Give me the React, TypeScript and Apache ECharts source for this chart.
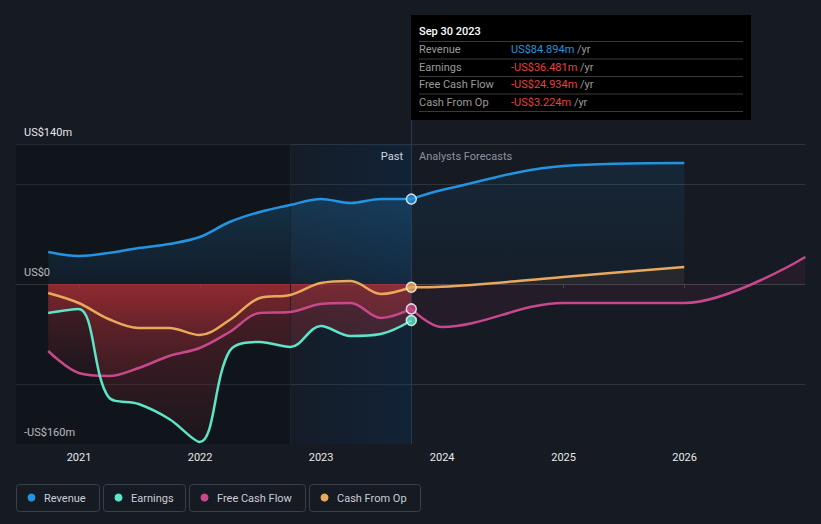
import React, { useEffect, useRef } from 'react';
import * as echarts from 'echarts';

// ---------- data ----------
const pastDates = ['2020-09-30', '2020-12-31', '2021-03-31', '2021-06-30', '2021-09-30', '2021-12-31', '2022-03-31', '2022-06-30', '2022-09-30', '2022-12-31', '2023-03-31', '2023-06-30', '2023-09-30'];
const revenuePast = [32, 28, 31, 36, 40, 47, 62, 72, 79, 85, 81, 85, 84.894];
const earningsPast = [-29, -25, -113, -120, -135, -158, -67, -58, -63, -42, -52, -50, -36.481];
const fcfPast = [-67, -89, -92, -84, -72, -64, -48, -29, -28, -20, -19, -34, -24.934];
const cfoPast = [-9, -19, -35, -44, -44, -51, -36, -14, -11, 1, 3, -10, -3.224];

const revenueForecastDates = ['2023-09-30', '2023-12-31', '2024-12-31', '2025-12-31'];
const revenueForecast = [84.894, 94, 118, 121];
const fcfForecastDates = ['2023-09-30', '2023-12-31', '2024-12-31', '2025-12-31', '2026-12-31'];
const fcfForecast = [-24.934, -43, -19, -19, 27];
const cfoForecastDates = ['2023-09-30', '2023-12-31', '2024-12-31', '2025-12-31'];
const cfoForecast = [-3.224, -2.7, 7, 17];

const axisMinDate = '2020-06-25';
const axisMaxDate = '2026-12-30';
const highlightStartDate = '2022-09-30';
const splitDate = '2023-09-30';

const yMin = -160;
const yMax = 140;
const yLabelValues = [140, 0, -160];
const yLabelTexts = ['US$140m', 'US$0', '-US$160m'];
const yGridValues = [140, 100, 0, -100];

const seriesNames = ['Revenue', 'Earnings', 'Free Cash Flow', 'Cash From Op'];
const seriesColors = ['#2394df', '#5ce5c9', '#c8488c', '#e8a95c'];

const tooltipTitle = 'Sep 30 2023';
const tooltipValues = ['US$84.894m', '-US$36.481m', '-US$24.934m', '-US$3.224m'];
const tooltipUnit = '/yr';

const pastLabel = 'Past';
const forecastLabel = 'Analysts Forecasts';

// ---------- helpers ----------
const BG = '#151a23';
const FONT = 'Roboto, "Noto Sans", sans-serif';
const ts = (d: string) => new Date(d + 'T00:00:00Z').getTime();
const zip = (dates: string[], vals: number[]) => dates.map((d, i) => [ts(d), vals[i]]);
const SMOOTH = 0.35;

const redArea = () =>
  new echarts.graphic.LinearGradient(0, 0, 0, 1, [
    { offset: 0, color: 'rgba(190,50,56,0.5)' },
    { offset: 1, color: 'rgba(190,50,56,0.1)' },
  ]);

const lineOnly = (name: string, color: string, data: any[], z = 5) => ({
  type: 'line',
  name,
  data,
  smooth: SMOOTH,
  symbol: 'none',
  z,
  lineStyle: { color, width: 2.5 },
  silent: true,
});

const areaOnly = (name: string, data: any[], area: any, z = 2) => ({
  type: 'line',
  name,
  data,
  smooth: SMOOTH,
  symbol: 'none',
  z,
  lineStyle: { width: 0, opacity: 0 },
  areaStyle: { color: area, origin: 0 },
  silent: true,
});

function buildOption() {
  const gridColors: string[] = [];
  for (let v = yMin; v <= yMax; v += 20) {
    if (v === 0) gridColors.push('#ffffff');
    else if (yGridValues.indexOf(v) >= 0) gridColors.push('#2f343d');
    else gridColors.push('rgba(0,0,0,0)');
  }

  const last = pastDates.length - 1;
  const dots = [revenuePast[last], earningsPast[last], fcfPast[last], cfoPast[last]].map((v, i) => ({
    value: [ts(pastDates[last]), v],
    itemStyle: { color: seriesColors[i], borderColor: '#ffffff', borderWidth: 1.5 },
  }));

  const revPastArea: any = areaOnly(
    seriesNames[0],
    zip(pastDates, revenuePast),
    new echarts.graphic.LinearGradient(0, 0, 0, 1, [
      { offset: 0, color: 'rgba(35,148,223,0.32)' },
      { offset: 1, color: 'rgba(35,148,223,0.1)' },
    ])
  );
  revPastArea.markArea = {
    silent: true,
    data: [
      [{ xAxis: ts(axisMinDate), itemStyle: { color: 'rgba(0,0,0,0.22)' } }, { xAxis: ts(highlightStartDate) }],
      [
        {
          xAxis: ts(highlightStartDate),
          itemStyle: {
            color: new echarts.graphic.LinearGradient(0, 0, 1, 0, [
              { offset: 0, color: 'rgba(10,60,110,0.06)' },
              { offset: 1, color: 'rgba(10,60,110,0.26)' },
            ]),
          },
        },
        { xAxis: ts(splitDate) },
      ],
    ],
  };
  revPastArea.markLine = {
    silent: true,
    symbol: 'none',
    label: { show: false },
    data: [
      { xAxis: ts(highlightStartDate), lineStyle: { color: '#19232f', width: 1, type: 'solid' } },
      { xAxis: ts(splitDate), lineStyle: { color: '#2a3a4c', width: 1, type: 'solid' } },
    ],
  };

  return {
    animation: false,
    backgroundColor: BG,
    textStyle: { fontFamily: FONT },
    grid: { left: 16, right: 16, top: 144, bottom: 80, containLabel: false },
    xAxis: {
      type: 'time',
      min: ts(axisMinDate),
      max: ts(axisMaxDate),
      minInterval: 360 * 86400000,
      maxInterval: 370 * 86400000,
      axisLine: { lineStyle: { color: '#3d424b', width: 1 } },
      axisTick: { show: true, length: 4, lineStyle: { color: '#3d424b' } },
      splitLine: { show: false },
      axisLabel: {
        color: '#e8e8e8',
        fontSize: 11,
        fontFamily: FONT,
        margin: 8,
        formatter: (val: number) => String(new Date(val).getUTCFullYear()),
      },
    },
    yAxis: {
      type: 'value',
      min: yMin,
      max: yMax,
      interval: 20,
      axisLine: { show: false },
      axisTick: { show: false },
      splitLine: { show: true, lineStyle: { color: gridColors, width: 1 } },
      axisLabel: {
        inside: true,
        margin: 8,
        color: '#e8e8e8',
        fontSize: 11,
        fontFamily: FONT,
        verticalAlign: 'bottom',
        lineHeight: 24,
        showMinLabel: true,
        showMaxLabel: true,
        formatter: (v: number) => {
          const i = yLabelValues.indexOf(v);
          return i >= 0 ? yLabelTexts[i] : '';
        },
      },
    },
    series: [
      // areas
      revPastArea,
      areaOnly(
        seriesNames[0],
        zip(revenueForecastDates, revenueForecast),
        new echarts.graphic.LinearGradient(0, 0, 0, 1, [
          { offset: 0, color: 'rgba(35,148,223,0.15)' },
          { offset: 1, color: 'rgba(35,148,223,0.05)' },
        ])
      ),
      areaOnly(seriesNames[3], zip(pastDates, cfoPast), redArea()),
      areaOnly(seriesNames[2], zip(pastDates, fcfPast), redArea()),
      areaOnly(seriesNames[1], zip(pastDates, earningsPast), redArea()),
      areaOnly(seriesNames[3], zip(cfoForecastDates, cfoForecast), 'rgba(220,150,80,0.12)'),
      areaOnly(seriesNames[2], zip(fcfForecastDates, fcfForecast), 'rgba(190,60,110,0.13)'),
      // lines
      lineOnly(seriesNames[0], seriesColors[0], zip(pastDates, revenuePast)),
      lineOnly(seriesNames[0], seriesColors[0], zip(revenueForecastDates, revenueForecast)),
      lineOnly(seriesNames[3], seriesColors[3], zip(pastDates, cfoPast)),
      lineOnly(seriesNames[3], seriesColors[3], zip(cfoForecastDates, cfoForecast)),
      lineOnly(seriesNames[2], seriesColors[2], zip(pastDates, fcfPast)),
      lineOnly(seriesNames[2], seriesColors[2], zip(fcfForecastDates, fcfForecast)),
      lineOnly(seriesNames[1], seriesColors[1], zip(pastDates, earningsPast)),
      {
        type: 'scatter',
        data: dots,
        symbolSize: 10,
        z: 10,
        silent: true,
      },
    ],
  };
}

function buildGraphic(px: number) {
  const els: any[] = [];
  els.push({ type: 'line', shape: { x1: px + 0.5, y1: 120, x2: px + 0.5, y2: 144 }, style: { stroke: '#2a3a4c', lineWidth: 1 }, silent: true });
  els.push({ type: 'text', x: px - 8, y: 156, style: { text: pastLabel, fill: '#ffffff', font: `11px ${FONT}`, align: 'right', verticalAlign: 'middle' } });
  els.push({ type: 'text', x: px + 8, y: 156, style: { text: forecastLabel, fill: '#8c939c', font: `11px ${FONT}`, align: 'left', verticalAlign: 'middle' } });
  els.push({ type: 'rect', shape: { x: px, y: 15, width: 340, height: 105 }, style: { fill: '#000000' }, z: 50 });
  els.push({ type: 'text', x: px + 8, y: 31, z: 51, style: { text: tooltipTitle, fill: '#ffffff', font: `500 11px ${FONT}`, verticalAlign: 'middle' } });
  const sepYs = [41, 58.5, 76, 93.5, 111];
  sepYs.forEach((y) =>
    els.push({ type: 'line', z: 51, shape: { x1: px + 8, y1: y + 0.5, x2: px + 332, y2: y + 0.5 }, style: { stroke: '#3a3a3a', lineWidth: 1 } })
  );
  const rowYs = [49.5, 67, 84.5, 102];
  seriesNames.forEach((n, i) => {
    els.push({ type: 'text', x: px + 8, y: rowYs[i], z: 51, style: { text: n, fill: '#9a9a9a', font: `11px ${FONT}`, verticalAlign: 'middle' } });
    const valColor = tooltipValues[i].charAt(0) === '-' ? '#e8413f' : '#2394df';
    els.push({
      type: 'text',
      x: px + 100,
      y: rowYs[i],
      z: 51,
      style: {
        text: `{v|${tooltipValues[i]}} {u|${tooltipUnit}}`,
        verticalAlign: 'middle',
        font: `11px ${FONT}`,
        rich: {
          v: { fill: valColor, font: `11px ${FONT}` },
          u: { fill: '#9a9a9a', font: `11px ${FONT}` },
        },
      },
    });
  });
  const boxes = [
    { x: 16, w: 83 },
    { x: 103, w: 82 },
    { x: 189, w: 116 },
    { x: 309, w: 111 },
  ];
  boxes.forEach((b, i) => {
    els.push({ type: 'rect', shape: { x: b.x + 0.5, y: 484.5, width: b.w, height: 27, r: 3 }, style: { fill: 'rgba(0,0,0,0)', stroke: '#3a3f49', lineWidth: 1 } });
    els.push({ type: 'circle', shape: { cx: b.x + 15.5, cy: 497.5, r: 4 }, style: { fill: seriesColors[i] } });
    els.push({ type: 'text', x: b.x + 28, y: 498, style: { text: seriesNames[i], fill: '#c9ced6', font: `11px ${FONT}`, verticalAlign: 'middle' } });
  });
  return els;
}

export default function App() {
  const ref = useRef<HTMLDivElement>(null);
  useEffect(() => {
    document.body.style.margin = '0';
    document.body.style.background = BG;
    const chart = echarts.init(ref.current as HTMLDivElement, null, { renderer: 'svg' });
    chart.setOption(buildOption() as any);
    const px = chart.convertToPixel({ xAxisIndex: 0 }, ts(splitDate)) as unknown as number;
    chart.setOption({ graphic: buildGraphic(Math.round(px)) } as any);
    return () => chart.dispose();
  }, []);
  return <div ref={ref} style={{ position: 'absolute', left: 0, top: 0, width: 821, height: 524, background: BG }} />;
}
